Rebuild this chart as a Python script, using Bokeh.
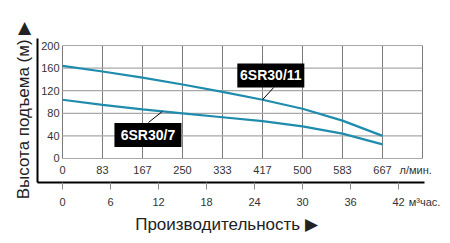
from bokeh.plotting import figure
from bokeh.models import Range1d, LinearAxis, FixedTicker
from bokeh.core.properties import value
from bokeh.embed import file_html
from bokeh.resources import INLINE

# ---- data ----
flow_lpm = [0, 83.3, 166.7, 250, 333.3, 416.7, 500, 583.3, 666.7]
head_6sr30_11 = [164, 154, 143, 131, 118, 104, 88, 67, 40]
head_6sr30_7 = [104, 95, 87, 80, 73, 66, 57, 44, 25]
lpm_grid = [0, 83.3, 166.7, 250, 333.3, 416.7, 500, 583.3, 666.7, 750]
lpm_ticks = [0, 83.3, 166.7, 250, 333.3, 416.7, 500, 583.3, 666.7]
lpm_labels = ["0", "83", "167", "250", "333", "417", "500", "583", "667"]
head_ticks = [0, 40, 80, 120, 160, 200]
head_labels = ["0", "40", "80", "120", "160", "200"]
m3h_ticks = [0, 6, 12, 18, 24, 30, 36, 42]
series_names = ["6SR30/11", "6SR30/7"]
lpm_unit = "л/мин."
m3h_unit = "м³час."

FONT = "Liberation Sans"
CURVE = "#1f8cae"
LPM_PER_M3H = 1000.0 / 60.0

x_start, x_end = -52.083, 775.0
m3_start, m3_end = x_start / LPM_PER_M3H, x_end / LPM_PER_M3H
m3_axis_end = 45.25

p = figure(width=450, height=243, output_backend="svg", toolbar_location=None,
           x_axis_location=None, y_axis_location=None,
           x_range=Range1d(x_start, x_end), y_range=Range1d(-42.48, 212.39),
           min_border_left=37, min_border_right=16, min_border_top=38,
           min_border_bottom=61)
p.outline_line_color = None
p.grid.grid_line_color = None
p.background_fill_color = "white"
p.border_fill_color = "white"
p.extra_x_ranges = {"m3": Range1d(m3_start, m3_end)}

# left axis (line + title only)
yax = LinearAxis(ticker=FixedTicker(ticks=[]), axis_line_color="black",
                 axis_line_width=2, major_tick_line_color=None,
                 minor_tick_line_color=None,
                 axis_label="Высота подъема (м) ▶", axis_label_standoff=5,
                 axis_label_text_font=FONT, axis_label_text_font_size="17px",
                 axis_label_text_font_style="normal",
                 axis_label_text_color="#222222")
p.add_layout(yax, "left")

# bottom axis in m3/h (visible ticks are the minor ones; last major carries the unit)
xax = LinearAxis(x_range_name="m3",
                 ticker=FixedTicker(ticks=m3h_ticks + [m3_axis_end],
                                    minor_ticks=m3h_ticks),
                 bounds=(m3_start, m3_axis_end),
                 major_label_overrides={m3_axis_end: m3h_unit},
                 axis_line_color="black", axis_line_width=2,
                 major_tick_line_color=None, major_tick_out=7, major_tick_in=0,
                 minor_tick_line_color="#888888", minor_tick_out=7,
                 minor_tick_in=0,
                 major_label_standoff=6, major_label_text_font=FONT,
                 major_label_text_font_size="11px",
                 major_label_text_color="#333333",
                 axis_label="Производительность ▶\u00a0\u00a0\u00a0\u00a0",
                 axis_label_standoff=4,
                 axis_label_text_font=FONT, axis_label_text_font_size="17px",
                 axis_label_text_font_style="normal",
                 axis_label_text_color="#222222")
p.add_layout(xax, "below")

# inner grid
p.segment(x0=lpm_grid, y0=[0] * len(lpm_grid), x1=lpm_grid,
          y1=[200] * len(lpm_grid), line_color="#7a7a7a", line_width=1)
p.segment(x0=[0] * len(head_ticks), y0=head_ticks, x1=[750] * len(head_ticks),
          y1=head_ticks, line_color="#a8a8a8", line_width=1.2)

# inner tick labels
p.text(x=[0] * len(head_ticks), y=head_ticks, text=head_labels, x_offset=-3,
       text_align="right", text_baseline="middle", text_font=value(FONT),
       text_font_size="11px", text_color="#333333")
p.text(x=lpm_ticks, y=[0] * len(lpm_ticks), text=lpm_labels, y_offset=12,
       text_align="center", text_baseline="middle", text_font=value(FONT),
       text_font_size="11px", text_color="#333333")
p.text(x=[702], y=[0], text=[lpm_unit], y_offset=12, text_align="left",
       text_baseline="middle", text_font=value(FONT), text_font_size="11px",
       text_color="#333333")

# curves
p.line(flow_lpm, head_6sr30_11, line_color=CURVE, line_width=2.2)
p.line(flow_lpm, head_6sr30_7, line_color=CURVE, line_width=2.2)

# series labels with leaders
p.segment(x0=[440, 179], y0=[125.7, 63.7], x1=[flow_lpm[5], 208],
          y1=[head_6sr30_11[5], 83.2], line_color="black", line_width=1)
p.rect(x=[434, 178], y=[147, 41.6], width=67, height=24, width_units="screen",
       height_units="screen", fill_color="black", line_color=None)
p.text(x=[434, 178], y=[147, 41.6], text=series_names, text_align="center",
       text_baseline="middle", text_font=value(FONT), text_font_size="14px",
       text_font_style="bold", text_color="white")

open("out.html", "w").write(file_html(p, INLINE))
